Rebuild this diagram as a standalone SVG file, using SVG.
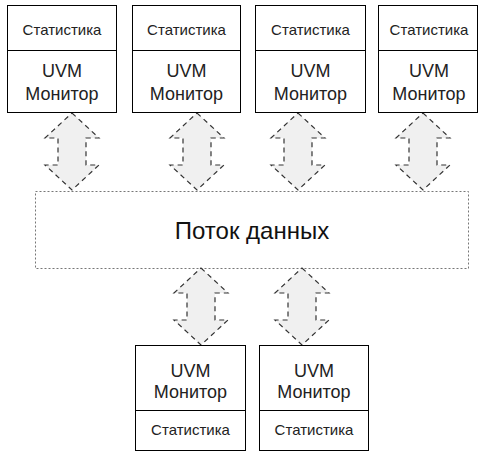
<svg xmlns="http://www.w3.org/2000/svg" width="483" height="452" viewBox="0 0 483 452">
<style>
.box{fill:#fff;stroke:#000;stroke-width:1}
.div{stroke:#000;stroke-width:1}
.stat{font-family:"Liberation Sans",Arial,sans-serif;font-size:15px;fill:#222;text-anchor:middle}
.mon{font-family:"Liberation Sans",Arial,sans-serif;font-size:18px;fill:#222;text-anchor:middle}
.flow{fill:#fff;stroke:#777;stroke-width:1;stroke-dasharray:2,2}
.flowt{font-family:"Liberation Sans",Arial,sans-serif;font-size:24px;fill:#111;text-anchor:middle}
.arr{fill:#f0f0f0;stroke:#333;stroke-width:1.2;stroke-dasharray:5,4}
</style>
<defs>
<path id="dbl" d="M0,0 L27,25 L14,25 L14,52 L27,52 L0,77 L-27,52 L-14,52 L-14,25 L-27,25 Z"/>
</defs>
<g id="flow">
<rect class="flow" x="35.5" y="191.5" width="433" height="77"/>
<text class="flowt" x="252" y="239">Поток данных</text>
</g>
<g id="connectors">
<use href="#dbl" class="arr" x="72" y="113"/>
<use href="#dbl" class="arr" x="197" y="113"/>
<use href="#dbl" class="arr" x="298" y="113"/>
<use href="#dbl" class="arr" x="423" y="113"/>
<use href="#dbl" class="arr" x="201" y="268"/>
<use href="#dbl" class="arr" x="302" y="268"/>
</g>
<g id="mon1">
<rect class="box" x="7.5" y="5.5" width="109" height="107"/>
<line class="div" x1="7.5" y1="50.5" x2="116.5" y2="50.5"/>
<text class="stat" x="62" y="35">Статистика</text>
<text class="mon" x="62" y="77">UVM</text>
<text class="mon" x="62" y="100">Монитор</text>
</g>
<g id="mon2">
<rect class="box" x="132.5" y="5.5" width="108" height="107"/>
<line class="div" x1="132.5" y1="50.5" x2="240.5" y2="50.5"/>
<text class="stat" x="186.5" y="35">Статистика</text>
<text class="mon" x="186.5" y="77">UVM</text>
<text class="mon" x="186.5" y="100">Монитор</text>
</g>
<g id="mon3">
<rect class="box" x="255.5" y="5.5" width="110" height="107"/>
<line class="div" x1="255.5" y1="50.5" x2="365.5" y2="50.5"/>
<text class="stat" x="310.5" y="35">Статистика</text>
<text class="mon" x="310.5" y="77">UVM</text>
<text class="mon" x="310.5" y="100">Монитор</text>
</g>
<g id="mon4">
<rect class="box" x="378.5" y="5.5" width="99" height="107"/>
<line class="div" x1="378.5" y1="50.5" x2="477.5" y2="50.5"/>
<text class="stat" x="429" y="35">Статистика</text>
<text class="mon" x="429" y="77">UVM</text>
<text class="mon" x="429" y="100">Монитор</text>
</g>
<g id="mon5">
<rect class="box" x="135.5" y="345.5" width="110" height="105"/>
<line class="div" x1="135.5" y1="410.5" x2="245.5" y2="410.5"/>
<text class="mon" x="190.5" y="377">UVM</text>
<text class="mon" x="190.5" y="398">Монитор</text>
<text class="stat" x="190.5" y="435">Статистика</text>
</g>
<g id="mon6">
<rect class="box" x="259.5" y="345.5" width="109" height="105"/>
<line class="div" x1="259.5" y1="410.5" x2="368.5" y2="410.5"/>
<text class="mon" x="314" y="377">UVM</text>
<text class="mon" x="314" y="398">Монитор</text>
<text class="stat" x="314" y="435">Статистика</text>
</g>
</svg>
